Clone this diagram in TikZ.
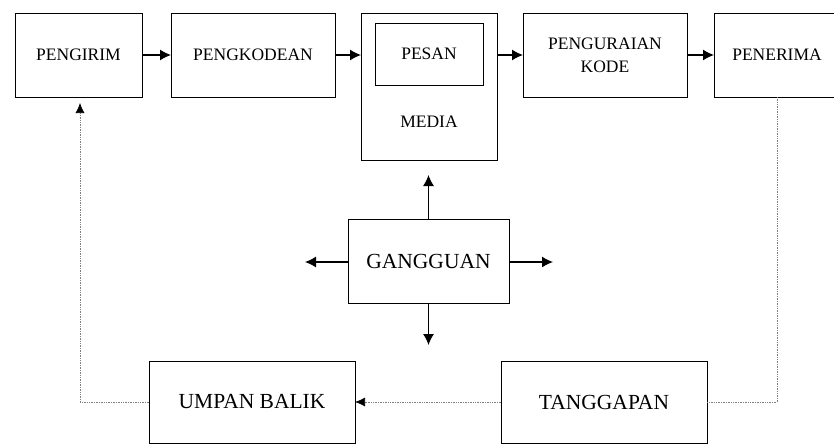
\documentclass[tikz,border=0pt]{standalone}
\usepackage{fontspec}
\setmainfont{Liberation Serif}
\usetikzlibrary{arrows.meta}

\tikzset{
  blok/.style={draw,line width=0.9pt,inner sep=0pt,outer sep=0pt,align=center,
    font=\fontsize{17.5}{23}\selectfont},
  blokbesar/.style={blok,font=\fontsize{21.5}{24}\selectfont},
  panah/.style={-{Latex[length=11pt,width=11pt]},line width=1.2pt},
  balik/.style={-{Latex[length=10pt,width=9pt,color=black]},densely dotted,gray,line width=0.7pt}
}

\begin{document}
\begin{tikzpicture}[x=1pt,y=-1pt]
  \clip (0,0) rectangle (834,444);
  \node[blok,minimum width=127pt,minimum height=84pt] (pengirim) at (78.5,55) {PENGIRIM};
  \node[blok,minimum width=164pt,minimum height=84pt] (kode) at (253,55) {PENGKODEAN};
  \node[blok,minimum width=136pt,minimum height=147pt] (media) at (429,86.5) {};
  \node[blok,minimum width=108pt,minimum height=62pt] (pesan) at (429,54) {PESAN};
  \node[font=\fontsize{17.5}{23}\selectfont] (mediateks) at (429,122) {MEDIA};
  \node[blok,minimum width=164pt,minimum height=84pt] (urai) at (605,55) {PENGURAIAN\\KODE};
  \node[blok,minimum width=126pt,minimum height=84pt] (penerima) at (777,55) {PENERIMA};
  \node[blokbesar,minimum width=161pt,minimum height=84pt] (ganggu) at (428.5,261) {GANGGUAN};
  \node[blokbesar,minimum width=206pt,minimum height=82pt] (umpan) at (252,402) {UMPAN BALIK};
  \node[blokbesar,minimum width=206pt,minimum height=82pt] (tanggap) at (604,402) {TANGGAPAN};

  \draw[panah] (pengirim.east) -- (kode.west);
  \draw[panah] (kode.east) -- (kode.east -| media.west);
  \draw[panah] (media.east |- urai.west) -- (urai.west);
  \draw[panah] (urai.east) -- (penerima.west);

  \coordinate (atas) at (428.5,175);
  \coordinate (bawah) at (428.5,345);
  \coordinate (kiri) at (305,262);
  \coordinate (kanan) at (553,262);
  \draw[panah] (ganggu.north) -- (atas);
  \draw[panah] (ganggu.south) -- (bawah);
  \draw[panah] (ganggu.west |- kiri) -- (kiri);
  \draw[panah] (ganggu.east |- kanan) -- (kanan);

  \coordinate (ujung) at (80,103);
  \draw[densely dotted,gray,line width=0.7pt] (penerima.south) |- (tanggap.east);
  \draw[balik] (tanggap.west) -- (umpan.east);
  \draw[balik] (umpan.west) -| (ujung);
\end{tikzpicture}
\end{document}
